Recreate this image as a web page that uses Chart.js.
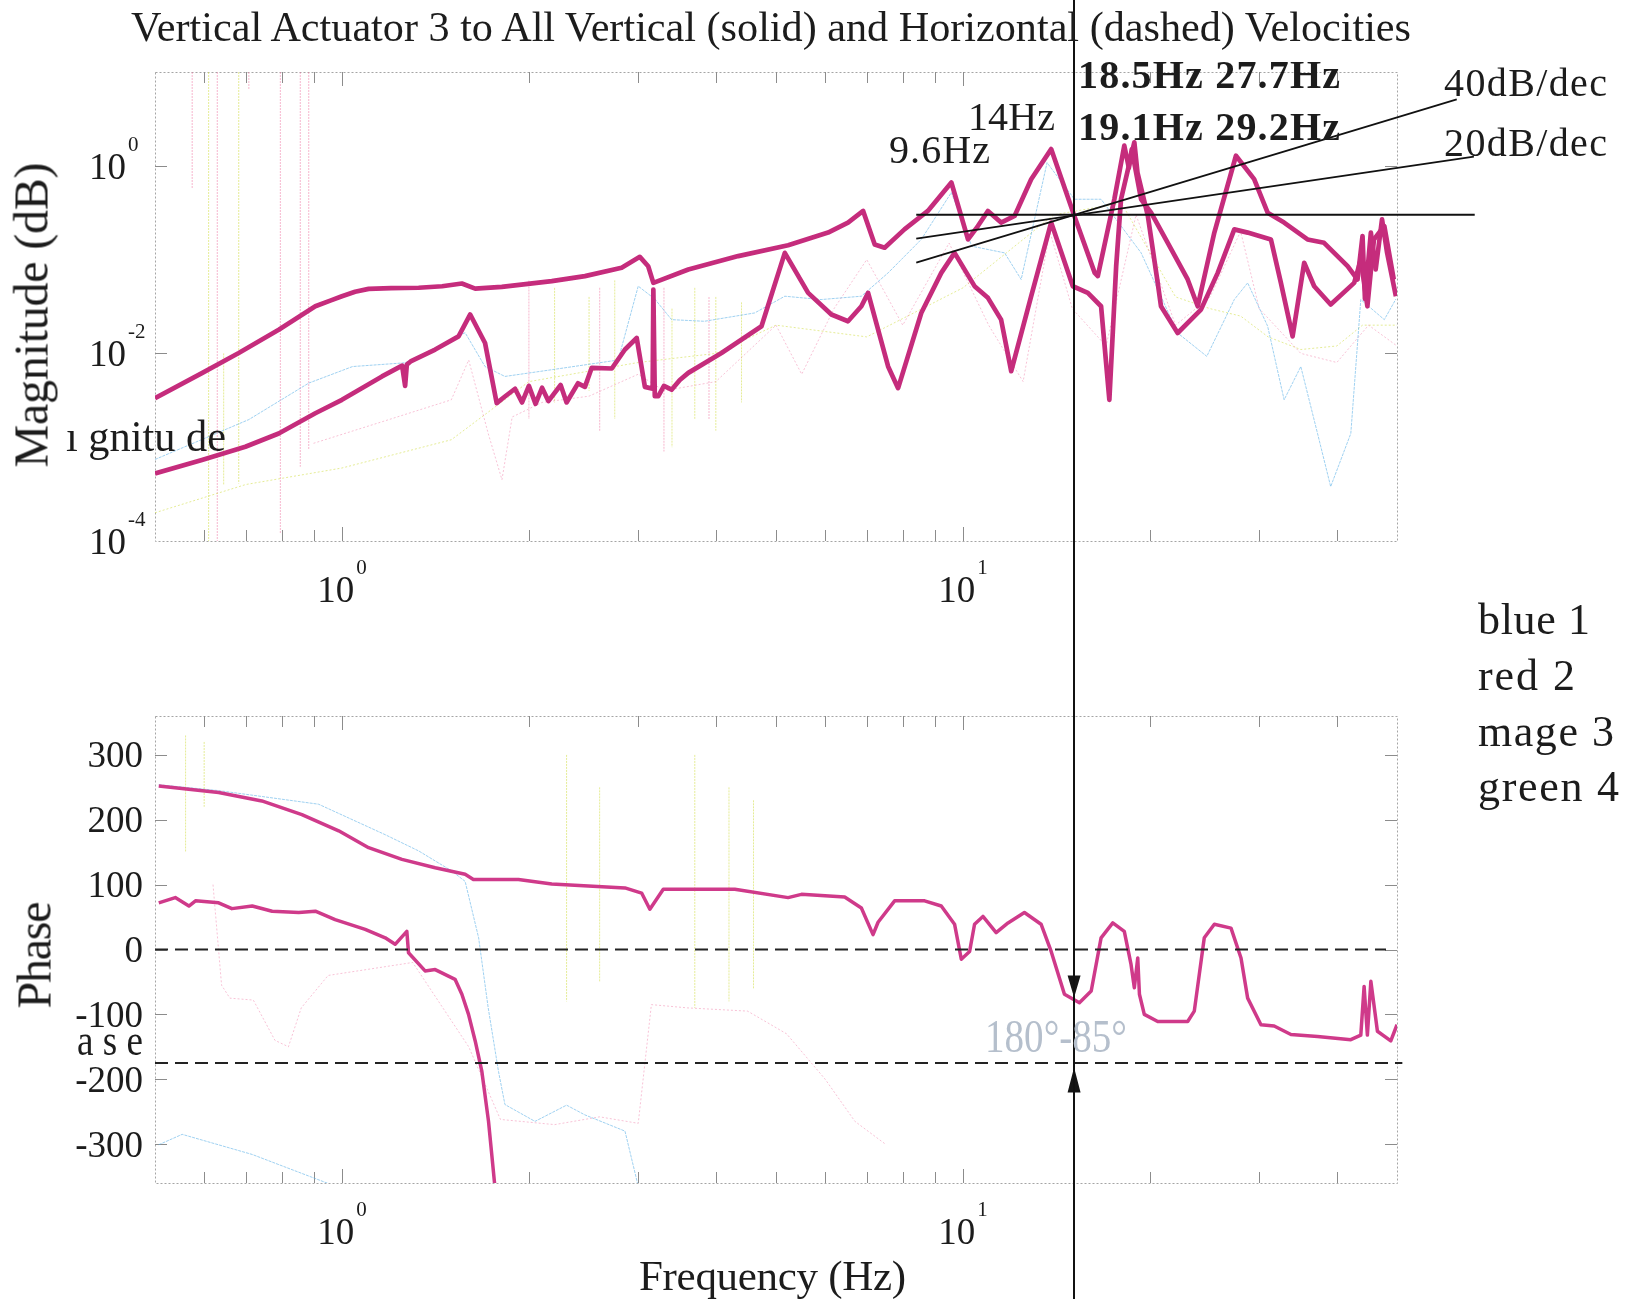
<!DOCTYPE html>
<html>
<head>
<meta charset="utf-8">
<script src="https://cdn.jsdelivr.net/npm/chart.js@4.4.1/dist/chart.umd.min.js"></script>
<style>
  html, body { margin: 0; padding: 0; background: #fff; }
  body { width: 1629px; height: 1301px; position: relative; overflow: hidden;
         font-family: 'Liberation Serif', 'Times New Roman', serif; color: #1c1c1c; }
  canvas { position: absolute; left: 0; }
  .t { position: absolute; white-space: nowrap; line-height: 1; }
  #cursor { position: absolute; top: 0; width: 2px; height: 1299px; background: #111; }
</style>
</head>
<body>
<canvas id="magChart" width="1629" height="620" style="top:0"></canvas>
<canvas id="phaseChart" width="1629" height="680" style="top:620px"></canvas>
<div id="cursor"></div>
<script>
const SERIF = "'Liberation Serif', 'Times New Roman', serif";

// ---- magnitude, thick magenta traces (actuator 3)
const magUpperHz = [0.5, 0.595, 0.682, 0.791, 0.906, 0.96, 1.0, 1.05, 1.104, 1.2, 1.329, 1.45, 1.56, 1.639, 1.809, 2.177, 2.462, 2.821, 3.018, 3.113, 3.173, 3.612, 4.346, 5.23, 6.065, 6.53, 6.907, 7.21, 7.48, 8.05, 8.78, 9.58, 10.19, 10.57, 10.97, 11.52, 12.11, 12.88, 13.87, 15.12, 16.3, 16.49, 17.53, 18.19, 18.5, 18.7, 19.36, 20.09, 21.37, 23.01, 23.88, 25.4, 27.52, 29.44, 30.95, 32.9, 35.88, 38.15, 41.63, 43.19, 44.0, 44.4, 45.38, 46.2, 47.3, 48.2, 49.8];
const magUpper = [0.00333, 0.00617, 0.0101, 0.0179, 0.0318, 0.0368, 0.0407, 0.0455, 0.0488, 0.0497, 0.0501, 0.052, 0.0556, 0.049, 0.0513, 0.0589, 0.0667, 0.0818, 0.107, 0.085, 0.0565, 0.0785, 0.109, 0.142, 0.194, 0.248, 0.330, 0.145, 0.134, 0.210, 0.330, 0.664, 0.164, 0.228, 0.330, 0.248, 0.292, 0.719, 1.507, 0.29, 0.0722, 0.0667, 0.44, 1.64, 0.95, 1.5, 0.44, 0.316, 0.151, 0.0614, 0.0318, 0.194, 1.28, 0.72, 0.316, 0.248, 0.164, 0.151, 0.0851, 0.0614, 0.178, 0.038, 0.194, 0.0785, 0.269, 0.118, 0.0407];

const magLowerHz = [0.5, 0.595, 0.699, 0.791, 0.906, 1.0, 1.16, 1.25, 1.264, 1.272, 1.29, 1.413, 1.541, 1.609, 1.70, 1.775, 1.83, 1.9, 1.95, 2.0, 2.05, 2.1, 2.15, 2.25, 2.3, 2.4, 2.462, 2.524, 2.72, 2.856, 2.983, 3.075, 3.165, 3.173, 3.19, 3.232, 3.3, 3.395, 3.5, 3.612, 4.085, 4.738, 5.166, 5.633, 6.14, 6.53, 6.862, 7.035, 7.577, 7.863, 8.568, 9.228, 9.694, 10.44, 10.97, 11.52, 11.96, 12.88, 13.87, 15.03, 15.89, 16.69, 17.21, 17.65, 17.97, 18.88, 19.1, 19.85, 20.59, 20.84, 22.17, 24.17, 25.72, 27.35, 28.74, 31.33, 32.51, 33.95, 35.44, 36.78, 39.1, 42.66, 43.72, 44.8, 45.9, 47.7, 49.4];
const magLower = [0.000525, 0.00073, 0.00101, 0.0014, 0.0023, 0.0032, 0.00568, 0.0074, 0.0045, 0.0076, 0.0082, 0.011, 0.0152, 0.026, 0.0129, 0.00295, 0.00347, 0.0042, 0.0030, 0.0045, 0.0029, 0.0043, 0.0031, 0.0046, 0.0030, 0.0048, 0.0044, 0.0070, 0.0069, 0.011, 0.0146, 0.0044, 0.0042, 0.048, 0.0035, 0.0035, 0.0045, 0.0041, 0.0052, 0.0062, 0.0101, 0.0195, 0.118, 0.0442, 0.026, 0.022, 0.0318, 0.0442, 0.00726, 0.00426, 0.027, 0.0722, 0.118, 0.0521, 0.0391, 0.0229, 0.00646, 0.0407, 0.248, 0.052, 0.0442, 0.0318, 0.0032, 0.085, 0.44, 1.78, 0.85, 0.292, 0.0565, 0.0318, 0.0165, 0.0293, 0.0722, 0.21, 0.194, 0.164, 0.0565, 0.0152, 0.0925, 0.052, 0.0332, 0.0565, 0.1, 0.0318, 0.164, 0.228, 0.0614];

// ---- magnitude, faint traces of the other sensors
const blueMagHz = [0.5, 0.708, 0.884, 1.04, 1.264, 1.579, 1.70, 1.83, 2.177, 2.785, 3.0, 3.19, 3.395, 3.834, 4.62, 5.166, 5.91, 6.862, 7.577, 8.568, 9.58, 10.33, 11.67, 12.41, 13.66, 15.12, 16.69, 19.36, 22.17, 24.7, 27.35, 28.74, 30.95, 32.9, 35.0, 37.24, 39.1, 42.13, 43.72, 47.7, 49.8];
const blueMag = [0.00074, 0.00197, 0.00482, 0.00724, 0.00794, 0.0166, 0.00724, 0.00568, 0.0067, 0.0085, 0.0521, 0.038, 0.0229, 0.022, 0.027, 0.0407, 0.0375, 0.0407, 0.0722, 0.164, 0.519, 0.139, 0.118, 0.0614, 1.08, 0.44, 0.44, 0.118, 0.0165, 0.0093, 0.0375, 0.0565, 0.0195, 0.0032, 0.00724, 0.0014, 0.00038, 0.0014, 0.0375, 0.0229, 0.038];

const pinkMagHz = [0.9, 1.17, 1.5, 1.6, 1.72, 1.81, 1.88, 2.1, 2.5, 3.0, 3.3, 4.0, 5.0, 5.5, 6.2, 7.0, 8.0, 9.5, 11, 12.5, 13.8, 15, 17, 19, 22, 25, 28, 30, 35, 40, 45, 50];
const pinkMag = [0.0011, 0.0019, 0.0032, 0.0085, 0.0014, 0.00045, 0.0021, 0.003, 0.0035, 0.006, 0.004, 0.005, 0.02, 0.006, 0.03, 0.1, 0.02, 0.15, 0.02, 0.005, 0.2, 0.03, 0.012, 0.3, 0.02, 0.04, 0.2, 0.03, 0.01, 0.008, 0.02, 0.012];

const yellowMagHz = [0.5, 0.7, 1.0, 1.5, 2.0, 3.0, 4.0, 5.0, 7.0, 10, 14, 18, 22, 25, 28, 31, 35, 40, 44, 50];
const yellowMag = [0.0002, 0.0004, 0.0006, 0.0012, 0.005, 0.008, 0.01, 0.02, 0.015, 0.05, 0.3, 0.4, 0.04, 0.03, 0.025, 0.015, 0.011, 0.012, 0.02, 0.02];

const pinkSpikeHz = [0.574, 0.63, 0.708, 0.796, 0.857, 0.884, 2.0, 2.6, 3.3, 3.9];
const pinkSpikeHi = [10, 10, 10, 10, 10, 10, 0.06, 0.05, 0.05, 0.04];
const pinkSpikeLo = [0.57, 0.0001, 6.6, 0.00012, 0.00062, 0.00094, 0.002, 0.0015, 0.0009, 0.002];
const yellowSpikeHz = [0.61, 0.645, 0.682, 2.2, 2.5, 2.75, 3.4, 3.7, 4.0, 4.4];
const yellowSpikeHi = [10, 0.01, 10, 0.05, 0.04, 0.06, 0.03, 0.05, 0.04, 0.035];
const yellowSpikeLo = [0.0001, 0.0004, 0.00041, 0.003, 0.004, 0.002, 0.001, 0.002, 0.0015, 0.003];

// ---- magnitude reference lines
const CURSOR_HZ = 15.1;
const flatHz = [8.41, 66.7], flatMag = [0.3, 0.3];
const slope40Hz = [8.41, 62.4], slope40Mag = [0.093, 5.12];
const slope20Hz = [8.41, 66.5], slope20Mag = [0.167, 1.25];

// ---- phase, thick magenta traces
const phUpperHz = [0.507, 0.633, 0.743, 0.862, 0.988, 1.104, 1.249, 1.413, 1.579, 1.628, 1.924, 2.177, 2.856, 3.038, 3.132, 3.292, 4.292, 5.23, 5.495, 6.45, 6.862, 7.165, 7.30, 7.762, 8.675, 9.228, 9.694, 9.94, 10.25, 10.44, 10.77, 11.31, 11.82, 12.56, 13.36, 13.87, 14.57, 15.4, 16.09, 16.69, 17.43, 18.19, 18.65, 18.88, 19.12, 19.24, 19.59, 20.59, 23.01, 23.58, 24.47, 25.4, 27.02, 28.04, 28.74, 30.19, 31.71, 33.74, 37.24, 42.13, 43.72, 44.26, 44.8, 45.38, 46.5, 48.86, 50];
const phUpper = [252, 242, 229, 208, 183, 157, 139, 126, 116, 108, 108, 101, 95, 87, 62, 93, 93, 80, 85, 81, 64, 23, 42, 75, 75, 67, 39, -15, -3, 39, 51, 26, 41, 57, 39, -3, -69, -82, -64, 18, 41, 28, -23, -59, -13, -69, -100, -111, -111, -95, 18, 39, 33, -13, -75, -116, -118, -131, -134, -139, -132, -57, -132, -49, -126, -141, -116];

const phLowerHz = [0.507, 0.539, 0.567, 0.581, 0.633, 0.665, 0.717, 0.772, 0.852, 0.906, 0.975, 1.09, 1.174, 1.218, 1.272, 1.28, 1.361, 1.413, 1.521, 1.56, 1.599, 1.639, 1.68, 1.722, 1.765];
const phLower = [72, 80, 67, 75, 72, 63, 67, 59, 57, 59, 46, 31, 18, 8, 28, -5, -33, -31, -46, -69, -100, -141, -188, -265, -370];

// ---- phase, faint traces
const bluePhHz = [0.507, 0.633, 0.917, 1.174, 1.329, 1.503, 1.579, 1.66, 1.72, 1.787, 1.83, 2.046, 2.3, 2.462, 2.856, 3.0];
const bluePh = [254, 245, 224, 177, 152, 121, 105, 18, -90, -188, -239, -265, -240, -255, -280, -365];
const bluePh2Hz = [0.507, 0.553, 0.717, 0.964];
const bluePh2 = [-301, -285, -316, -363];
const pinkPhHz = [0.62, 0.64, 0.66, 0.72, 0.78, 0.82, 0.86, 0.95, 1.3, 1.6, 1.8, 2.2, 2.6, 3.0, 3.15, 3.6, 4.5, 5.2, 6.0, 6.7, 7.5];
const pinkPh = [100, -55, -75, -78, -140, -150, -90, -40, -20, -150, -262, -270, -258, -268, -85, -90, -95, -130, -200, -265, -300];
const yellowPhSpikeHz = [0.56, 0.6, 2.3, 2.6, 3.7, 4.2, 4.6];
const yellowPhSpikeHi = [330, 320, 300, 250, 300, 250, 230];
const yellowPhSpikeLo = [150, 220, -80, -50, -90, -80, -60];

// phase reference levels
const zeroHz = [0.5, 48], zeroPh = [0, 0];
const marginHz = [0.5, 51], marginPh = [-175, -175];
const ARROW_DOWN_PH = -74, ARROW_UP_PH = -182;

// ticks
const MAJOR_HZ = [1, 10];
const MINOR_HZ = [0.6, 0.7, 0.8, 0.9, 2, 3, 4, 5, 6, 7, 8, 9, 20, 30, 40];
const MAG_TICKS = [1, 0.01, 0.0001];
const MAG_EXP = ['0', '-2', '-4'];
const PH_TICKS = [300, 200, 100, 0, -100, -200, -300];

const MAGENTA = '#c52c7c';

function pts(xs, ys) { return xs.map((x, i) => ({ x: x, y: ys[i] })); }
function spikes(xs, hi, lo) {
  const out = [];
  xs.forEach((x, i) => { out.push({ x: x, y: hi[i] }, { x: x, y: lo[i] }, { x: x, y: null }); });
  return out;
}
function line(data, color, width, extra) {
  return Object.assign({ data: data, borderColor: color, borderWidth: width, showLine: true,
    pointRadius: 0, fill: false, tension: 0, spanGaps: false, borderJoinStyle: 'round' }, extra || {});
}

function drawFrame(chart, yTicks) {
  const { ctx, chartArea: a, scales } = chart;
  ctx.save();
  ctx.strokeStyle = '#a5a5a5';
  ctx.lineWidth = 1;
  ctx.setLineDash([2, 2]);
  ctx.strokeRect(a.left + 0.5, a.top + 0.5, a.right - a.left, a.bottom - a.top);
  ctx.setLineDash([]);
  ctx.strokeStyle = '#8c8c8c';
  ctx.beginPath();
  MAJOR_HZ.concat(MINOR_HZ).forEach(v => {
    const x = Math.round(scales.x.getPixelForValue(v)) + 0.5;
    const len = MAJOR_HZ.includes(v) ? 14 : 11;
    ctx.moveTo(x, a.bottom); ctx.lineTo(x, a.bottom - len);
    ctx.moveTo(x, a.top); ctx.lineTo(x, a.top + len);
  });
  yTicks.forEach(v => {
    const y = Math.round(scales.y.getPixelForValue(v)) + 0.5;
    ctx.moveTo(a.left, y); ctx.lineTo(a.left + 12, y);
    ctx.moveTo(a.right, y); ctx.lineTo(a.right - 12, y);
  });
  ctx.stroke();
  ctx.restore();
}

function powLabel(ctx, x, base, exp, center) {
  ctx.font = '37px ' + SERIF;
  const w1 = ctx.measureText('10').width;
  ctx.font = '21px ' + SERIF;
  const w2 = ctx.measureText(exp).width;
  const left = center ? x - (w1 + w2 + 2) / 2 : x;
  ctx.font = '37px ' + SERIF;
  ctx.fillText('10', left, base);
  ctx.font = '21px ' + SERIF;
  ctx.fillText(exp, left + w1 + 2, base - 28);
}

function drawFreqLabels(chart) {
  const { ctx, chartArea: a, scales } = chart;
  ctx.save();
  ctx.fillStyle = '#1c1c1c';
  ctx.textBaseline = 'alphabetic';
  powLabel(ctx, scales.x.getPixelForValue(1), a.bottom + 61, '0', true);
  powLabel(ctx, scales.x.getPixelForValue(10), a.bottom + 61, '1', true);
  ctx.restore();
}

const magPlugin = {
  id: 'magFrame',
  beforeDatasetsDraw(chart) { drawFrame(chart, [1, 0.01]); },
  afterDraw(chart) {
    const { ctx, scales } = chart;
    ctx.save();
    ctx.fillStyle = '#1c1c1c';
    MAG_TICKS.forEach((v, i) => powLabel(ctx, 89, scales.y.getPixelForValue(v) + 13, MAG_EXP[i], false));
    ctx.restore();
    drawFreqLabels(chart);
  }
};

const phasePlugin = {
  id: 'phaseFrame',
  beforeDatasetsDraw(chart) { drawFrame(chart, PH_TICKS); },
  afterDraw(chart) {
    const { ctx, scales } = chart;
    ctx.save();
    ctx.fillStyle = '#1c1c1c';
    ctx.font = '37px ' + SERIF;
    ctx.textAlign = 'right';
    PH_TICKS.forEach(v => ctx.fillText(String(v), 143, scales.y.getPixelForValue(v) + 12.5));
    // arrows at the cursor frequency
    const x = scales.x.getPixelForValue(CURSOR_HZ);
    const yd = scales.y.getPixelForValue(ARROW_DOWN_PH);
    const yu = scales.y.getPixelForValue(ARROW_UP_PH);
    ctx.fillStyle = '#151515';
    ctx.beginPath();
    ctx.moveTo(x, yd); ctx.lineTo(x - 6.5, yd - 22); ctx.lineTo(x + 6.5, yd - 22); ctx.closePath();
    ctx.moveTo(x, yu); ctx.lineTo(x - 6.5, yu + 25); ctx.lineTo(x + 6.5, yu + 25); ctx.closePath();
    ctx.fill();
    ctx.restore();
    drawFreqLabels(chart);
  }
};

const faintBlue = 'rgba(95,178,232,0.6)';
const faintPink = 'rgba(240,120,165,0.45)';
const faintYellow = 'rgba(212,224,80,0.6)';

const magChart = new Chart(document.getElementById('magChart'), {
  type: 'scatter',
  data: {
    datasets: [
      line(pts(flatHz, flatMag), '#111', 2, { clip: false }),
      line(pts(slope40Hz, slope40Mag), '#111', 1.8, { clip: false }),
      line(pts(slope20Hz, slope20Mag), '#111', 1.8, { clip: false }),
      line(pts(magUpperHz, magUpper), MAGENTA, 4.7),
      line(pts(magLowerHz, magLower), MAGENTA, 4.7),
      line(pts(blueMagHz, blueMag), faintBlue, 1, { borderDash: [3, 1] }),
      line(pts(pinkMagHz, pinkMag), faintPink, 1, { borderDash: [2, 2] }),
      line(pts(yellowMagHz, yellowMag), faintYellow, 1, { borderDash: [2, 2] }),
      line(spikes(pinkSpikeHz, pinkSpikeHi, pinkSpikeLo), faintPink, 1.2, { borderDash: [2, 1] }),
      line(spikes(yellowSpikeHz, yellowSpikeHi, yellowSpikeLo), faintYellow, 1, { borderDash: [2, 1] })
    ]
  },
  options: {
    responsive: false, animation: false, devicePixelRatio: 1,
    layout: { padding: { left: 155, top: 72, right: 232, bottom: 79 } },
    plugins: { legend: { display: false }, tooltip: { enabled: false } },
    scales: {
      x: { type: 'logarithmic', min: 0.5, max: 50, display: false },
      y: { type: 'logarithmic', min: 1e-4, max: 10, display: false }
    }
  },
  plugins: [magPlugin]
});

new Chart(document.getElementById('phaseChart'), {
  type: 'scatter',
  data: {
    datasets: [
      line(pts(zeroHz, zeroPh), '#222', 2.2, { borderDash: [13, 7], clip: false }),
      line(pts(marginHz, marginPh), '#222', 2.2, { borderDash: [13, 7], clip: false }),
      line(pts(phUpperHz, phUpper), '#cf3a8a', 3.5),
      line(pts(phLowerHz, phLower), '#cf3a8a', 3.5),
      line(pts(bluePhHz, bluePh), faintBlue, 1, { borderDash: [3, 1] }),
      line(pts(bluePh2Hz, bluePh2), faintBlue, 1, { borderDash: [3, 1] }),
      line(pts(pinkPhHz, pinkPh), faintPink, 1, { borderDash: [2, 2] }),
      line(spikes(yellowPhSpikeHz, yellowPhSpikeHi, yellowPhSpikeLo), faintYellow, 1, { borderDash: [2, 1] })
    ]
  },
  options: {
    responsive: false, animation: false, devicePixelRatio: 1,
    layout: { padding: { left: 155, top: 96, right: 232, bottom: 117 } },
    plugins: { legend: { display: false }, tooltip: { enabled: false } },
    scales: {
      x: { type: 'logarithmic', min: 0.5, max: 50, display: false },
      y: { type: 'linear', min: -360, max: 360, display: false }
    }
  },
  plugins: [phasePlugin]
});

// page-wide cursor line at the crossover frequency
document.getElementById('cursor').style.left =
  (magChart.scales.x.getPixelForValue(CURSOR_HZ) - 1) + 'px';

// text labels, fitted to the widths seen in the original
// (squeeze: narrow the glyphs instead of changing the letter spacing)
function label(txt, o) {
  const el = document.createElement('span');
  el.className = 't';
  el.textContent = txt;
  el.style.fontSize = o.size + 'px';
  if (o.bold) el.style.fontWeight = 'bold';
  if (o.color) el.style.color = o.color;
  document.body.appendChild(el);
  let w = el.getBoundingClientRect().width;
  let tf = '';
  if (o.width && o.squeeze) {
    tf = 'scaleX(' + (o.width / w) + ')';
    el.style.transformOrigin = 'left center';
  } else if (o.width) {
    el.style.letterSpacing = ((o.width - w) / Math.max(1, txt.length - 1)) + 'px';
    w = o.width;
  }
  if (o.rotate) {
    const cx = o.x - 0.3375 * o.size;
    el.style.left = (cx - w / 2) + 'px';
    el.style.top = (o.cy - o.size / 2) + 'px';
    el.style.transform = 'rotate(-90deg)';
    el.style.transformOrigin = (w / 2) + 'px ' + (o.size / 2) + 'px';
  } else {
    el.style.left = o.x + 'px';
    el.style.top = (o.base - 0.8375 * o.size) + 'px';
    if (tf) el.style.transform = tf;
  }
}

label('Vertical Actuator 3 to All Vertical (solid) and Horizontal (dashed) Velocities', { x: 130.5, base: 41, size: 43, width: 1280, squeeze: true });
label('9.6Hz', { x: 889, base: 163, size: 40, width: 101 });
label('14Hz', { x: 968, base: 130, size: 40, width: 87 });
label('18.5Hz 27.7Hz', { x: 1078, base: 88, size: 40, bold: true, width: 262 });
label('19.1Hz 29.2Hz', { x: 1078, base: 140, size: 40, bold: true, width: 262 });
label('40dB/dec', { x: 1444, base: 96, size: 40, width: 163 });
label('20dB/dec', { x: 1444, base: 156, size: 40, width: 163 });
label('blue 1', { x: 1478, base: 635, size: 44, width: 112 });
label('red 2', { x: 1478, base: 691, size: 44, width: 97 });
label('mage 3', { x: 1478, base: 747, size: 44, width: 136 });
label('green 4', { x: 1478, base: 802, size: 44, width: 141 });
label('Magnitude (dB)', { x: 47.5, cy: 315, size: 48, width: 305, rotate: true });
label('ı gnitu de', { x: 66, base: 452, size: 45, width: 160, squeeze: true });
label('Phase', { x: 50.5, cy: 955, size: 48, width: 107, rotate: true });
label('a s e', { x: 77, base: 1056, size: 44, width: 66, squeeze: true });
label('Frequency (Hz)', { x: 639, base: 1290, size: 43, width: 267 });
label('180°-85°', { x: 985, base: 1053, size: 46, width: 142, color: '#b5bfcc', squeeze: true });
</script>
</body>
</html>
